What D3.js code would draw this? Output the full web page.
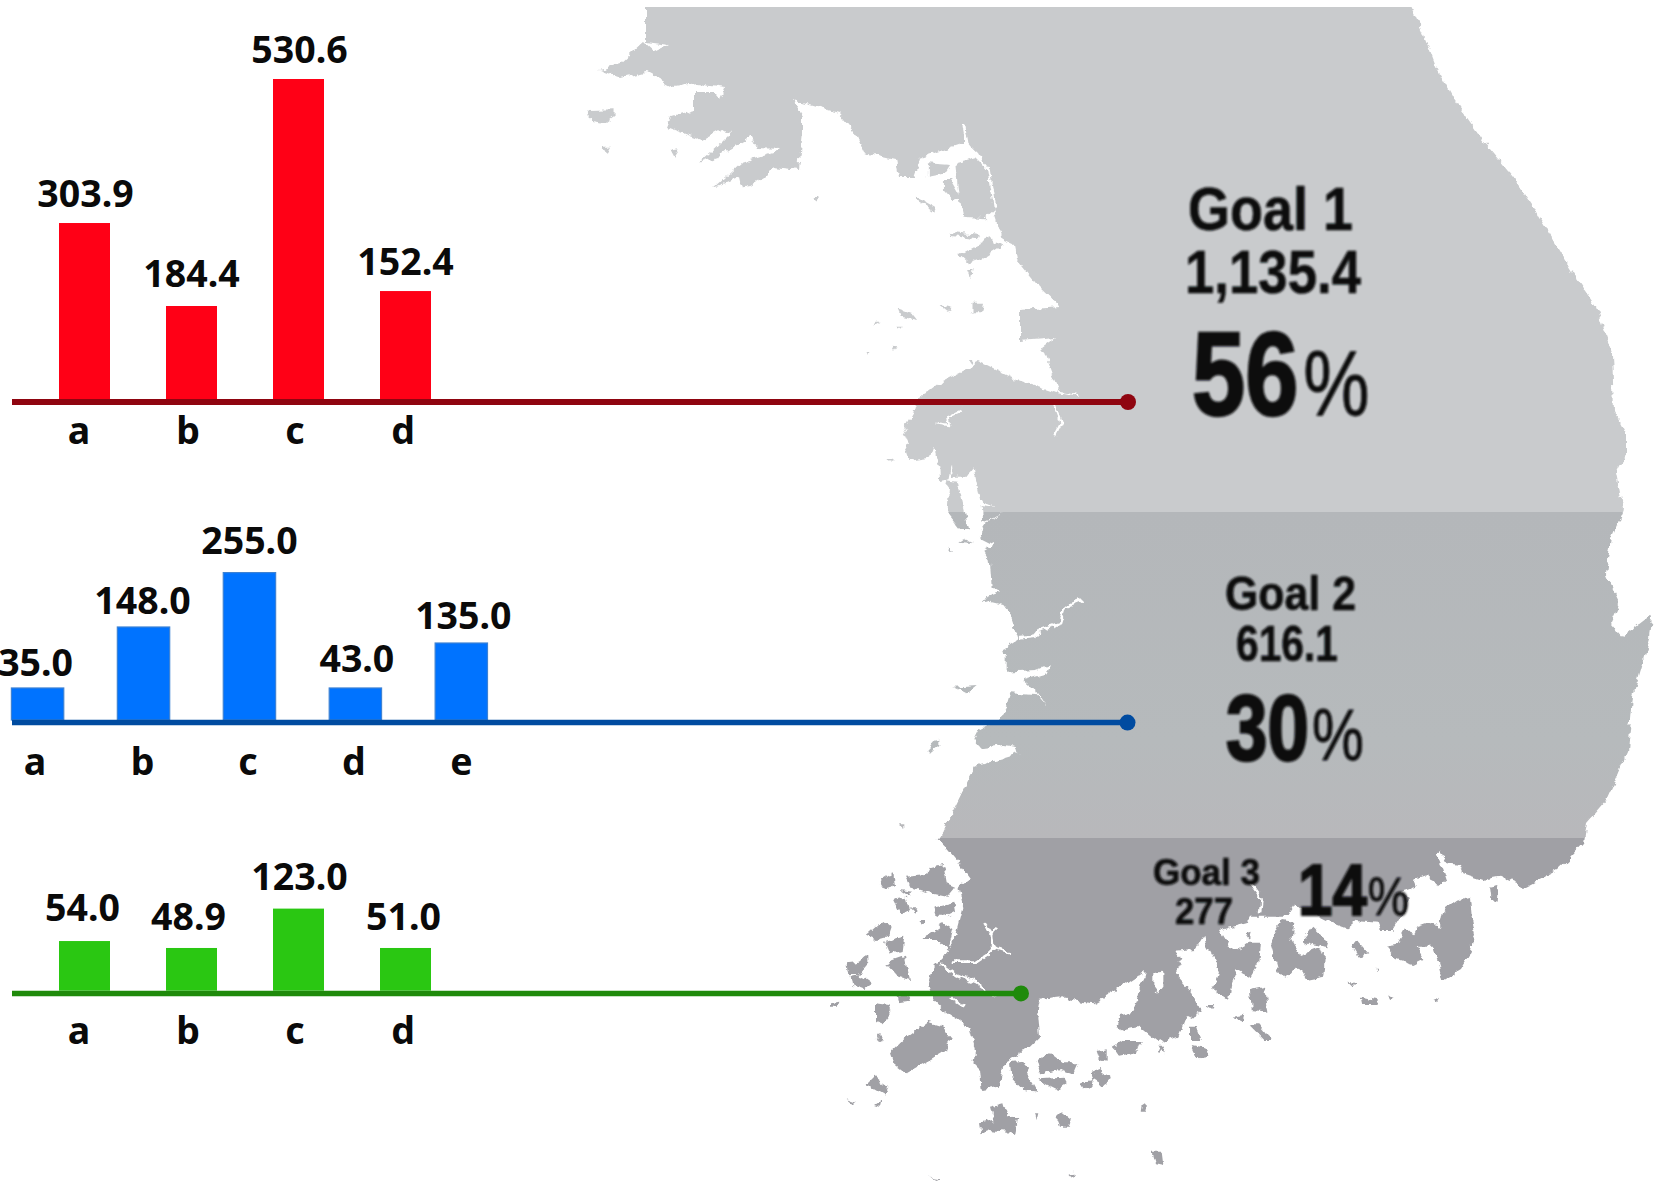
<!DOCTYPE html>
<html><head><meta charset="utf-8">
<script src="https://cdnjs.cloudflare.com/ajax/libs/d3/7.8.5/d3.min.js"></script>
<style>html,body{margin:0;padding:0;background:#fff}svg{display:block}</style>
</head><body><svg id="c" width="1654" height="1182"></svg>
<script>
// ---------- data (printed labels, and bar lengths as actually drawn in the picture)
const goal1Cats = ["a","b","c","d"];
const goal1Labels = ["303.9","184.4","530.6","152.4"];
const goal1Drawn = [291.8,154.2,530.6,179];
const goal2Cats = ["a","b","c","d","e"];
const goal2Labels = ["35.0","148.0","255.0","43.0","135.0"];
const goal2Drawn = [55.4,160.9,255,55.4,133.2];
const goal3Cats = ["a","b","c","d"];
const goal3Labels = ["54.0","48.9","123.0","51.0"];
const goal3Drawn = [74.4,64,123,64];

// ---------- layout
const panels = [
 {cats:goal1Cats,labels:goal1Labels,drawn:goal1Drawn,x:[59,431],bw:51,step:107,bottom:399,top:79,line:402,lw:6,end:1128,
  fill:"#ff0016",stroke:"none",lc:"#8f0510",tick:444,gap:[16,19,16,16],ldx:[1,0,1,0],tdx:[-5.5,-3.5,-3.5,-2.5]},
 {cats:goal2Cats,labels:goal2Labels,drawn:goal2Drawn,x:[11.4,487.5],bw:52.4,step:106,bottom:720,top:572.6,line:722.6,lw:5.5,end:1127.5,
  fill:"#0073ff",stroke:"#3d82d4",lc:"#004ba0",tick:775,gap:[12,13,19,16,14],ldx:[-2,-1,0,1.5,2],tdx:[-2.5,-1,-1.5,-1.5,0]},
 {cats:goal3Cats,labels:goal3Labels,drawn:goal3Drawn,x:[59,431],bw:51,step:107,bottom:990.7,top:908.6,line:993.4,lw:5.5,end:1021,
  fill:"#2ac712",stroke:"none",lc:"#1f8a0b",tick:1043.5,gap:[20,18,18.6,18],ldx:[-2,-3,1,-2],tdx:[-5.5,-3.5,-3.5,-2.5]}
];

const eastCoast = [[646,0],[1408,0],[1411,7],[1423,33],[1436,67],[1453,97],[1485,143],[1513,177],[1533,207],[1549,233],[1573,273],[1596,307],[1612,353],[1614,410],[1626,433],[1626,453],[1616,473],[1623,507],[1622,513],[1611,539],[1606,574],[1620,604],[1611,624],[1622,637],[1652,614],[1650,639],[1633,696],[1628,752],[1606,800],[1587,822],[1584,843],[1571,857],[1557,870],[1524,887]];
const coastB = [[1050,140],[1000,150],[940,130],[930,105],[890,100],[870,55],[860,75],[880,120],[890,150],[860,175],[840,135],[790,145],[800,170],[740,190],[780,200],[760,250],[730,300],[690,300],[680,275],[620,270],[590,295],[550,280],[490,250],[460,240],[435,220],[410,260],[340,260],[300,260],[290,280],[210,300],[240,350],[265,355],[300,335],[330,335],[325,400],[300,440],[260,420],[240,470],[235,510],[190,480],[210,420],[165,340],[160,320],[135,360],[75,365],[100,385],[75,430],[130,490],[155,545],[105,570],[85,620],[30,640]];
const coastA = [[960,615],[930,590],[880,600],[860,590],[870,555],[905,545],[925,500],[945,420],[900,450],[860,480],[790,520],[755,515],[700,505],[635,510],[625,560],[630,620],[600,650],[540,690],[520,700],[510,770],[455,780],[450,720],[430,700],[435,660],[420,600],[400,580],[340,540],[310,510],[295,470],[310,410],[340,380],[360,350],[380,310],[400,235],[385,170],[420,145],[380,90],[350,55],[325,30]];
const coastC = [[170,1320],[190,1290],[225,1220],[245,1180],[270,1130],[290,1095],[380,1070],[415,1060],[410,1040],[370,1035],[300,1045],[280,1020],[295,990],[370,950],[390,880],[470,885],[495,915],[470,875],[430,840],[500,820],[510,795],[470,810],[380,815],[380,760],[365,750],[415,715],[400,670],[390,640],[370,615],[330,605],[305,610],[320,590],[360,575],[335,560],[330,490],[310,455],[345,435],[305,415],[300,395],[320,365],[370,340],[310,365],[305,315],[345,320],[300,300],[278,205],[260,230],[215,230],[213,195],[205,235],[180,240],[178,200],[160,140],[150,170],[85,180],[75,150],[90,120],[65,105],[100,45],[110,0]];
const westNorth = [[939,383],[981,362],[1017,380],[1053,392],[1078,397],[1099,377],[1089,397],[1060,392],[1053,377],[1042,347],[1056,337],[1021,340],[1021,310],[1060,307],[1039,287],[1031,277],[1017,260],[1014,245],[1003,240],[994,213],[989,173],[978,153],[967,143],[964,123],[964,143],[921,157],[914,177],[899,177],[896,160],[864,153],[853,130],[839,113],[817,107],[792,100],[803,117],[803,133],[799,170],[774,167],[764,177],[742,190],[739,177],[715,187],[742,163],[774,153],[781,148],[756,147],[749,133],[765,127],[739,143],[717,157],[699,163],[721,143],[731,133],[721,130],[703,140],[667,127],[671,117],[696,110],[705,113],[695,110],[695,93],[717,93],[721,98],[726,87],[696,83],[674,87],[646,72],[621,78],[599,70],[621,63],[644,42],[655,52],[669,45],[646,42]];
const islandsNorth = [
 [[80,330],[150,328],[150,350],[125,370],[85,362]],[[115,440],[140,440],[128,465]],[[310,450],[335,445],[320,470]],
 [[1110,490],[1165,475],[1200,510],[1215,630],[1190,655],[1130,650],[1120,600]],
 [[1030,490],[1095,495],[1080,520],[1030,530]],[[1075,540],[1095,540],[1125,595],[1095,600],[1075,575]],
 [[1115,765],[1205,712],[1240,735],[1190,770],[1140,790]],[[1140,810],[1155,810],[1150,838]],
 [[945,925],[985,940],[1000,960],[955,950]],[[1155,905],[1190,905],[1185,940],[1155,940]],
 [[710,585],[725,585],[718,605]],[[1000,590],[1050,620],[1045,632],[1000,600]],[[1065,915],[1100,925],[1085,932]],
 [[1090,695],[1175,705],[1170,718],[1095,708]],[[1145,1080],[1160,1080],[1155,1095]],[[880,965],[895,965],[875,978]],
 [[945,980],[960,980],[950,992]],[[860,1050],[872,1050],[865,1062]],[[928,1040],[945,1042],[935,1056]],
 [[1060,1150],[1075,1150],[1075,1190],[1060,1195]]
];
const islandsA = [
 [[180,670],[230,620],[290,575],[340,590],[365,620],[350,660],[300,690],[230,730],[190,700]],
 [[540,700],[580,695],[600,740],[625,785],[580,780],[545,745]],
 [[620,690],[660,670],[700,700],[745,700],[730,735],[690,720],[630,730]],
 [[625,745],[700,740],[710,760],[680,780],[640,760]],[[750,760],[790,750],[780,775],[760,778]],
 [[785,730],[810,720],[845,745],[815,765],[790,750]],[[800,660],[830,655],[830,695],[810,690]],
 [[845,650],[880,630],[935,630],[920,670],[870,680]],[[985,655],[1005,650],[1000,670]],
 [[680,865],[700,845],[725,865],[720,890],[690,890]],
 [[450,880],[490,870],[480,830],[520,820],[530,855],[565,865],[555,915],[530,905],[480,900],[455,910]],
 [[615,850],[625,850],[620,870]],[[110,760],[130,740],[175,775],[165,795],[130,775]],[[135,825],[155,810],[150,830]],
 [[0,520],[25,515],[20,530],[0,530]],[[135,520],[175,525],[185,550],[160,580],[135,570]],[[140,620],[155,615],[150,640]],
 [[65,440],[90,435],[125,460],[100,480],[70,470]],[[50,400],[90,395],[115,375],[115,400],[85,435],[55,435]],
 [[110,315],[160,270],[185,290],[175,320],[140,330]],[[165,335],[220,320],[215,360],[180,370]],
 [[170,400],[225,380],[240,450],[205,440]],[[200,500],[245,495],[235,515],[205,520]],
 [[150,150],[190,125],[195,165],[165,175]],[[225,140],[290,135],[300,115],[340,105],[350,160],[375,170],[350,200],[300,190],[240,170]],
 [[190,205],[230,200],[240,240],[215,255]],[[310,230],[370,215],[375,245],[345,260],[320,260]],
 [[270,330],[340,280],[370,300],[355,360],[330,330]],[[265,270],[285,270],[280,285]],[[240,235],[262,235],[255,250]],
 [[210,180],[250,185],[240,200]],[[720,1030],[735,1028],[728,1040]],[[300,1040],[330,1045],[320,1050]],
 [[935,825],[950,815],[950,845],[932,845]],[[50,805],[80,815],[70,822]]
];
const islandsB = [
 [[360,340],[395,270],[430,275],[425,330],[450,375],[500,355],[525,370],[520,440],[470,450],[445,405],[415,440],[385,430],[375,390]],
 [[460,330],[490,290],[510,310],[540,355],[480,345]],[[600,340],[625,335],[655,370],[625,380]],
 [[705,350],[740,345],[765,300],[790,310],[800,290],[830,280],[870,290],[880,240],[920,210],[960,200],[965,260],[975,310],[960,370],[930,420],[880,450],[870,410],[850,350],[800,350],[820,390],[790,405],[770,400],[740,390]],
 [[1020,170],[1045,165],[1040,215],[1025,210]],[[680,410],[690,410],[683,425]],[[595,455],[620,460],[610,470]],
 [[635,500],[680,510],[690,525],[640,525]],[[715,490],[735,505],[720,510]],[[120,590],[140,590],[155,630],[120,630]],
 [[125,645],[170,655],[175,680],[145,685]],[[290,580],[325,580],[365,630],[340,630]],[[300,480],[345,470],[355,545],[305,540]],
 [[245,560],[280,555],[275,575]],[[20,650],[45,650],[30,670]],[[5,965],[35,965],[40,1005],[15,1000]],
 [[290,310],[305,305],[300,325]],[[165,525],[195,525],[190,540]],[[850,510],[870,500],[860,520]]
];
const islandsC = [[[145,1050],[175,1015],[175,1035],[150,1055]],[[235,425],[280,430],[250,415]],[[210,440],[220,455],[205,455]],
 [[220,860],[290,855],[260,880]],[[60,1270],[70,1270],[70,1290]],[[20,180],[45,175],[30,185]],
 [[195,240],[230,245],[265,390],[240,390],[205,345],[210,260]]];
const riversA = [[[330,400],[380,435],[440,460],[495,500]],[[365,395],[440,395],[470,375],[490,355],[485,310],[465,280]],[[490,355],[540,370]],[[500,290],[485,320]],[[360,500],[405,530]],[[630,510],[700,503]]];
const riversC = [[[420,715],[465,710],[480,690],[540,670],[555,620],[605,600]],[[520,0],[545,70],[525,110]],[[170,70],[210,75],[205,50],[245,30]]];
const riversB = [[[305,165],[335,205],[330,250]]];
const riversN = [[[1130,370],[1140,430],[1200,510],[1215,620]]];
const holeA = [[970,430],[1000,425],[1000,470],[985,490],[970,470]];

const svg = d3.select("#c");
const defs = svg.append("defs");
const crop = (x0,y0,k) => p => p.map(d=>[x0+d[0]/k,y0+d[1]/k]);
const toA = crop(830,830,3), toB = crop(1150,830,3), toC = crop(880,400,3);
const zx = d3.scaleLinear().domain([0,1568]).range([560,1120]), zy = d3.scaleLinear().domain([0,1560]).range([0,520]);
const toN = p => p.map(d=>[zx(d[0]),zy(d[1])]);
const mainland = [...eastCoast,...toB(coastB),...toA(coastA),...toC(coastC),...westNorth];
const polys = [mainland,...islandsNorth.map(toN),...islandsA.map(toA),...islandsB.map(toB),...islandsC.map(toC)];
const line = d3.line(), closed = p => line(p)+"Z";

const rough = defs.append("filter").attr("id","rough").attr("filterUnits","userSpaceOnUse")
  .attr("x",0).attr("y",0).attr("width",1654).attr("height",1182);
rough.append("feTurbulence").attr("type","fractalNoise").attr("baseFrequency",0.11).attr("numOctaves",3).attr("seed",4).attr("result","n");
rough.append("feDisplacementMap").attr("in","SourceGraphic").attr("in2","n").attr("scale",8).attr("xChannelSelector","R").attr("yChannelSelector","G");
const mask = defs.append("mask").attr("id","land").attr("maskUnits","userSpaceOnUse").attr("x",0).attr("y",7).attr("width",1654).attr("height",1175);
const mg = mask.append("g").attr("filter","url(#rough)");
mg.selectAll("path.l").data(polys).join("path").attr("class","l").attr("d",closed).attr("fill","#fff");
const whites = [...riversA.map(toA),...riversC.map(toC),...riversB.map(toB),...riversN.map(toN)];
mg.selectAll("path.r").data(whites).join("path").attr("class","r").attr("d",line).attr("fill","none").attr("stroke","#000").attr("stroke-width",2.6).attr("stroke-linejoin","round");
mg.append("path").attr("d",closed(toA(holeA))).attr("fill","#000");

const grad = defs.append("linearGradient").attr("id","mid").attr("x1",0).attr("x2",0).attr("y1",0).attr("y2",1);
grad.append("stop").attr("offset",0).attr("stop-color","#b4b7ba");
grad.append("stop").attr("offset",.7).attr("stop-color","#b6babc");
grad.append("stop").attr("offset",1).attr("stop-color","#b8b8bb");
const blur = defs.append("filter").attr("id","soft").attr("x","-5%").attr("y","-5%").attr("width","110%").attr("height","110%");
blur.append("feGaussianBlur").attr("stdDeviation",0.8);

const map = svg.append("g").attr("mask","url(#land)");
const bands = [{y0:0,y1:512,c:"#c9cbcd"},{y0:512,y1:838,c:"url(#mid)"},{y0:838,y1:1182,c:"#a0a0a5"}];
map.selectAll("rect").data(bands).join("rect").attr("x",0).attr("width",1654)
  .attr("y",d=>d.y0).attr("height",d=>d.y1-d.y0).attr("fill",d=>d.c);

// ---------- map text
const mapText = [
 {t:"Goal 1",x:1188,y:230,w:165,s:62},{t:"1,135.4",x:1185,y:293,w:176,s:62},
 {t:"Goal 2",x:1225,y:609.6,w:131,s:48},{t:"616.1",x:1236,y:661,w:102,s:50},
 {t:"Goal 3",x:1153,y:885,w:107,s:36},{t:"277",x:1175,y:924,w:58,s:36}
];
const mapPct = [
 {num:"56",x:1192,y:415,f:.81,ns:118,ps:92,gap:6,sw:2.5},
 {num:"30",x:1226,y:760,f:.81,ns:92,ps:72,gap:4,sw:2.5},
 {num:"14",x:1298,y:915,f:.86,ns:72,ps:54,gap:1,sw:2}
];
const mapFont = "'Liberation Sans','Arial',sans-serif", ink = "#0c0d0f";
const tg = svg.append("g").attr("filter","url(#soft)");
tg.selectAll("text.l").data(mapText).join("text").attr("class","l")
  .attr("x",d=>d.x).attr("y",d=>d.y).text(d=>d.t)
  .attr("textLength",d=>d.w).attr("lengthAdjust","spacingAndGlyphs")
  .attr("font-family",mapFont).attr("font-weight",700).attr("font-size",d=>d.s)
  .attr("fill",ink).attr("stroke",ink).attr("stroke-width",0.6);
const pct = tg.selectAll("text.p").data(mapPct).join("text").attr("class","p")
  .attr("transform",d=>`translate(${d.x},${d.y}) scale(${d.f},1)`)
  .attr("font-family",mapFont).attr("fill",ink);
pct.append("tspan").text(d=>d.num).attr("font-weight",700).attr("font-size",d=>d.ns).attr("stroke",ink).attr("stroke-width",d=>d.sw);
pct.append("tspan").text("%").attr("dx",d=>d.gap).attr("font-weight",400).attr("font-size",d=>d.ps).attr("stroke",ink).attr("stroke-width",0.8);

// ---------- bars
const font = "'Noto Sans','Open Sans',sans-serif";
panels.forEach(p=>{
  const g = svg.append("g");
  const x = d3.scaleBand().domain(p.cats).range(p.x).paddingInner(1-p.bw/p.step).paddingOuter(0);
  const y = d3.scaleLinear().domain([0,d3.max(p.drawn)]).range([p.bottom,p.top]);
  g.selectAll("rect").data(p.cats).join("rect")
    .attr("x",d=>x(d)).attr("width",x.bandwidth())
    .attr("y",(d,i)=>y(p.drawn[i])).attr("height",(d,i)=>p.bottom-y(p.drawn[i]))
    .attr("fill",p.fill).attr("stroke",p.stroke).attr("stroke-width",p.stroke==="none"?0:1.2);
  g.selectAll("text.val").data(p.cats).join("text").attr("class","val")
    .attr("x",(d,i)=>x(d)+x.bandwidth()/2+p.ldx[i]).attr("y",(d,i)=>y(p.drawn[i])-p.gap[i])
    .attr("text-anchor","middle").attr("font-family",font).attr("font-weight",700).attr("font-size",37.5).attr("fill","#0a0a0a")
    .text((d,i)=>p.labels[i]);
  g.append("line").attr("x1",12).attr("x2",p.end).attr("y1",p.line).attr("y2",p.line).attr("stroke",p.lc).attr("stroke-width",p.lw);
  g.append("circle").attr("cx",p.end).attr("cy",p.line).attr("r",8).attr("fill",p.lc);
  const ax = g.append("g").attr("transform",`translate(0,${p.tick})`).call(d3.axisBottom(x).tickSize(0));
  ax.select(".domain").remove();
  ax.selectAll("text").attr("y",0).attr("dy",0).attr("dx",(d,i)=>p.tdx[i])
    .attr("font-family",font).attr("font-weight",700).attr("font-size",37.5).attr("fill","#0a0a0a");
});
</script></body></html>
